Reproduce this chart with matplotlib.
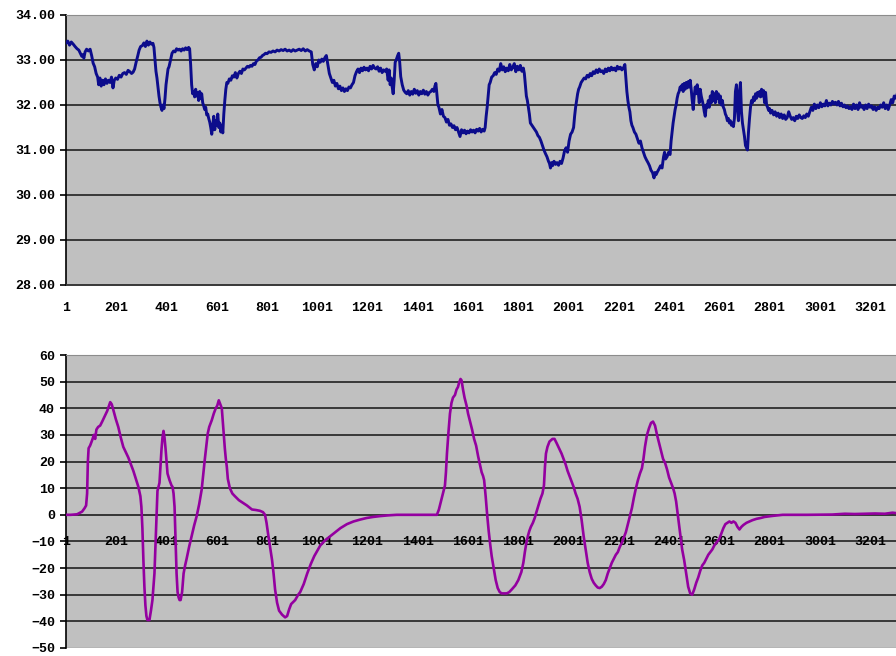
import matplotlib
matplotlib.use('Agg')
import matplotlib.pyplot as plt

# x categories shown on both axes
x_ticks = [1, 201, 401, 601, 801, 1001, 1201, 1401, 1601, 1801, 2001,
           2201, 2401, 2601, 2801, 3001, 3201]

# top series
top_idx = [1, 8, 15, 22, 30, 37, 45, 52, 58, 64, 68, 72, 77, 83, 90, 97, 103, 109, 115, 121,
           127, 131, 136, 141, 147, 152, 158, 164, 170, 176, 182, 188, 193, 199, 206, 213, 220, 227, 234, 241,
           248, 255, 262, 268, 274, 280, 286, 292, 298, 305, 311, 317, 323, 329, 335, 341, 347, 351, 355, 359,
           363, 367, 371, 375, 379, 383, 387, 391, 395, 399, 403, 407, 411, 415, 419, 423, 429, 435, 441, 447,
           453, 459, 465, 471, 477, 483, 489, 493, 497, 501, 505, 509, 513, 517, 521, 525, 529, 533, 537, 541,
           545, 549, 553, 557, 561, 565, 569, 573, 577, 581, 585, 589, 593, 597, 601, 605, 609, 613, 617, 621,
           625, 629, 633, 637, 641, 645, 651, 657, 663, 669, 675, 681, 687, 693, 699, 705, 711, 717, 723, 729,
           735, 741, 747, 753, 759, 765, 771, 777, 783, 789, 795, 801, 809, 817, 825, 833, 841, 849, 857, 865,
           873, 881, 889, 897, 905, 913, 921, 929, 937, 945, 953, 961, 969, 977, 983, 989, 995, 1001, 1007, 1013,
           1019, 1025, 1031, 1037, 1043, 1049, 1055, 1061, 1067, 1073, 1079, 1085, 1091, 1097, 1103, 1109, 1115, 1121, 1127, 1133,
           1139, 1145, 1151, 1157, 1163, 1169, 1175, 1181, 1187, 1193, 1199, 1205, 1211, 1217, 1223, 1229, 1235, 1241, 1247, 1253,
           1259, 1265, 1271, 1277, 1283, 1287, 1291, 1295, 1299, 1303, 1307, 1311, 1315, 1321, 1325, 1329, 1333, 1339, 1345, 1351,
           1357, 1363, 1369, 1375, 1381, 1387, 1393, 1399, 1405, 1411, 1417, 1423, 1429, 1435, 1441, 1447, 1453, 1459, 1465, 1469,
           1473, 1477, 1481, 1485, 1491, 1497, 1503, 1509, 1515, 1521, 1527, 1533, 1539, 1545, 1551, 1557, 1563, 1569, 1575, 1581,
           1587, 1593, 1599, 1605, 1611, 1617, 1623, 1629, 1635, 1641, 1647, 1653, 1659, 1665, 1669, 1673, 1677, 1681, 1685, 1689,
           1695, 1701, 1707, 1713, 1719, 1725, 1731, 1737, 1743, 1749, 1755, 1761, 1767, 1773, 1779, 1785, 1791, 1797, 1803, 1809,
           1815, 1821, 1825, 1829, 1833, 1837, 1841, 1845, 1849, 1855, 1861, 1867, 1873, 1879, 1885, 1891, 1897, 1903, 1909, 1915,
           1921, 1925, 1929, 1933, 1937, 1943, 1949, 1955, 1961, 1967, 1973, 1979, 1985, 1991, 1997, 2003, 2009, 2015, 2021, 2025,
           2029, 2033, 2037, 2041, 2045, 2051, 2057, 2063, 2069, 2075, 2081, 2087, 2093, 2099, 2105, 2111, 2117, 2123, 2129, 2135,
           2141, 2147, 2153, 2159, 2165, 2171, 2177, 2183, 2189, 2195, 2201, 2207, 2213, 2219, 2225, 2229, 2233, 2237, 2241, 2245,
           2249, 2253, 2257, 2263, 2269, 2275, 2281, 2287, 2293, 2299, 2305, 2311, 2317, 2323, 2329, 2335, 2341, 2345, 2349, 2355,
           2361, 2367, 2373, 2379, 2383, 2387, 2393, 2399, 2405, 2409, 2413, 2417, 2421, 2425, 2429, 2433, 2437, 2441, 2445, 2449,
           2453, 2457, 2461, 2465, 2469, 2473, 2477, 2481, 2485, 2489, 2493, 2497, 2501, 2505, 2509, 2513, 2517, 2521, 2525, 2529,
           2533, 2537, 2541, 2545, 2549, 2553, 2557, 2561, 2565, 2569, 2573, 2577, 2581, 2585, 2589, 2593, 2597, 2601, 2605, 2609,
           2613, 2617, 2621, 2625, 2629, 2633, 2637, 2641, 2645, 2649, 2653, 2657, 2661, 2665, 2669, 2673, 2677, 2681, 2685, 2689,
           2693, 2697, 2701, 2705, 2709, 2713, 2717, 2721, 2725, 2729, 2733, 2737, 2741, 2745, 2749, 2753, 2757, 2761, 2765, 2769,
           2773, 2777, 2781, 2785, 2789, 2793, 2797, 2801, 2805, 2811, 2817, 2823, 2829, 2835, 2841, 2847, 2853, 2859, 2865, 2871,
           2877, 2883, 2889, 2895, 2901, 2907, 2913, 2919, 2925, 2931, 2937, 2943, 2949, 2955, 2961, 2967, 2973, 2979, 2985, 2991,
           2997, 3003, 3009, 3015, 3021, 3027, 3033, 3039, 3045, 3051, 3057, 3063, 3069, 3075, 3081, 3087, 3093, 3099, 3105, 3111,
           3117, 3123, 3129, 3135, 3141, 3147, 3153, 3159, 3165, 3171, 3177, 3183, 3189, 3195, 3201, 3207, 3213, 3219, 3225, 3231,
           3237, 3243, 3249, 3255, 3261, 3267, 3273, 3279, 3285, 3291, 3297, 3303, 3309]
top_val = [33.38, 33.42, 33.33, 33.40, 33.35, 33.30, 33.25, 33.22, 33.15, 33.08, 33.12, 33.04, 33.18, 33.24, 33.20, 33.24, 33.10, 32.93, 32.85, 32.70,
           32.62, 32.45, 32.60, 32.42, 32.55, 32.45, 32.58, 32.48, 32.55, 32.50, 32.62, 32.38, 32.55, 32.60, 32.57, 32.66, 32.62, 32.70, 32.72, 32.68,
           32.77, 32.74, 32.70, 32.73, 32.80, 32.95, 33.08, 33.22, 33.30, 33.32, 33.38, 33.30, 33.42, 33.33, 33.40, 33.35, 33.37, 33.28, 33.00, 32.75,
           32.60, 32.40, 32.20, 32.05, 31.95, 31.88, 32.00, 31.92, 32.15, 32.45, 32.62, 32.80, 32.85, 32.95, 33.05, 33.15, 33.20, 33.18, 33.25, 33.22,
           33.24, 33.20, 33.25, 33.22, 33.27, 33.23, 33.28, 33.25, 32.90, 32.45, 32.25, 32.30, 32.18, 32.35, 32.20, 32.28, 32.10, 32.30, 32.15, 32.25,
           32.05, 31.98, 31.90, 31.95, 31.78, 31.80, 31.70, 31.62, 31.50, 31.35, 31.55, 31.75, 31.45, 31.65, 31.55, 31.80, 31.50, 31.60, 31.40, 31.55,
           31.38, 31.80, 32.10, 32.35, 32.50, 32.48, 32.58, 32.55, 32.65, 32.62, 32.72, 32.60, 32.70, 32.75, 32.70, 32.80, 32.78, 32.82, 32.86, 32.84,
           32.88, 32.86, 32.92, 32.90, 32.98, 33.00, 33.05, 33.06, 33.10, 33.12, 33.15, 33.14, 33.18, 33.17, 33.20, 33.18, 33.22, 33.20, 33.23, 33.21,
           33.24, 33.20, 33.22, 33.19, 33.23, 33.20, 33.22, 33.24, 33.21, 33.25, 33.20, 33.23, 33.20, 33.18, 32.90, 32.78, 32.92, 32.85, 33.00, 32.95,
           33.02, 32.97, 33.05, 33.10, 32.90, 32.70, 32.60, 32.50, 32.55, 32.42, 32.48, 32.36, 32.42, 32.32, 32.38, 32.30, 32.36, 32.32, 32.40, 32.38,
           32.45, 32.50, 32.65, 32.74, 32.80, 32.72, 32.82, 32.76, 32.84, 32.78, 32.82, 32.76, 32.86, 32.80, 32.88, 32.82, 32.80, 32.85, 32.75, 32.82,
           32.72, 32.78, 32.75, 32.80, 32.55, 32.78, 32.45, 32.60, 32.40, 32.25, 32.55, 32.95, 33.00, 33.10, 33.15, 32.95, 32.63, 32.45, 32.33, 32.28,
           32.25, 32.32, 32.22, 32.30, 32.24, 32.35, 32.26, 32.32, 32.22, 32.30, 32.25, 32.33, 32.24, 32.30, 32.22, 32.28, 32.30, 32.35, 32.30, 32.42,
           32.48, 32.25, 32.00, 31.95, 31.80, 31.90, 31.75, 31.72, 31.62, 31.68, 31.55, 31.58, 31.50, 31.54, 31.45, 31.50, 31.40, 31.30, 31.45, 31.38,
           31.44, 31.36, 31.42, 31.38, 31.45, 31.40, 31.44, 31.38, 31.46, 31.42, 31.48, 31.40, 31.46, 31.42, 31.50, 31.75, 31.95, 32.20, 32.45, 32.50,
           32.62, 32.65, 32.72, 32.68, 32.80, 32.75, 32.92, 32.78, 32.85, 32.74, 32.82, 32.76, 32.90, 32.78, 32.84, 32.92, 32.74, 32.86, 32.78, 32.88,
           32.75, 32.82, 32.70, 32.45, 32.20, 32.10, 31.95, 31.80, 31.60, 31.55, 31.50, 31.45, 31.40, 31.32, 31.28, 31.20, 31.10, 31.00, 30.92, 30.85,
           30.75, 30.70, 30.60, 30.72, 30.65, 30.75, 30.68, 30.72, 30.66, 30.75, 30.70, 30.82, 30.98, 31.05, 30.95, 31.20, 31.35, 31.40, 31.50, 31.75,
           31.95, 32.10, 32.25, 32.35, 32.40, 32.50, 32.55, 32.60, 32.58, 32.66, 32.62, 32.70, 32.65, 32.74, 32.70, 32.78, 32.72, 32.80, 32.74, 32.76,
           32.70, 32.80, 32.74, 32.82, 32.76, 32.84, 32.78, 32.82, 32.76, 32.86, 32.80, 32.84, 32.78, 32.82, 32.90, 32.60, 32.30, 32.10, 31.95, 31.85,
           31.65, 31.55, 31.50, 31.40, 31.35, 31.25, 31.15, 31.20, 31.05, 30.95, 30.85, 30.78, 30.72, 30.65, 30.55, 30.50, 30.38, 30.50, 30.45, 30.52,
           30.58, 30.65, 30.60, 30.85, 30.95, 30.80, 30.85, 30.95, 30.90, 31.20, 31.40, 31.60, 31.75, 31.90, 32.00, 32.15, 32.25, 32.30, 32.40, 32.35,
           32.45, 32.30, 32.48, 32.35, 32.50, 32.38, 32.52, 32.40, 32.55, 32.35, 32.10, 31.90, 32.20, 32.40, 32.25, 32.45, 32.30, 32.05, 32.35, 32.20,
           32.10, 32.00, 31.85, 31.75, 32.00, 31.95, 32.10, 31.95, 32.20, 32.05, 32.30, 32.10, 32.25, 32.05, 32.30, 32.15, 32.25, 32.05, 32.20, 32.00,
           32.10, 31.95, 31.90, 31.80, 31.75, 31.65, 31.70, 31.60, 31.65, 31.55, 31.60, 31.52, 31.70, 32.30, 32.45, 31.90, 31.65, 32.30, 32.50, 31.85,
           31.60, 31.45, 31.30, 31.10, 31.05, 31.00, 31.40, 31.70, 31.95, 32.10, 32.05, 32.18, 32.10, 32.25, 32.15, 32.28, 32.20, 32.30, 32.18, 32.35,
           32.20, 32.32, 32.05, 32.28, 32.00, 31.95, 31.88, 31.92, 31.82, 31.88, 31.78, 31.85, 31.75, 31.82, 31.72, 31.80, 31.70, 31.78, 31.68, 31.72,
           31.85, 31.75, 31.68, 31.72, 31.65, 31.75, 31.70, 31.78, 31.72, 31.70, 31.76, 31.72, 31.80, 31.75, 31.85, 31.95, 31.88, 32.02, 31.92, 32.00,
           31.94, 32.05, 31.96, 32.02, 31.98, 32.10, 31.98, 32.04, 32.00, 32.08, 32.02, 32.06, 32.00, 32.08, 31.98, 32.04, 31.96, 32.00, 31.94, 31.98,
           31.92, 31.96, 31.90, 32.02, 31.92, 32.00, 31.90, 32.05, 31.95, 31.98, 31.90, 32.00, 31.92, 32.02, 31.95, 31.98, 31.90, 31.96, 31.88, 31.95,
           31.92, 32.00, 31.95, 32.05, 31.92, 32.00, 31.90, 32.00, 32.12, 32.05, 32.20, 32.15, 32.25]

# bottom series
bot_idx = [1, 20, 45, 65, 75, 81, 85, 88, 91, 97, 105, 112, 117, 122, 129, 137, 145, 155, 165, 172,
           177, 183, 189, 199, 209, 219, 229, 239, 249, 259, 269, 279, 289, 297, 301, 305, 309, 313, 317, 321,
           325, 333, 339, 345, 353, 357, 361, 365, 369, 373, 377, 381, 385, 389, 393, 397, 401, 405, 413, 421,
           425, 429, 433, 437, 441, 445, 449, 453, 457, 463, 469, 475, 481, 491, 501, 511, 521, 531, 541, 547,
           553, 559, 565, 571, 581, 589, 597, 603, 609, 615, 621, 625, 629, 633, 637, 641, 645, 653, 663, 673,
           689, 705, 721, 741, 757, 773, 785, 793, 799, 805, 813, 821, 827, 833, 841, 849, 861, 873, 881, 889,
           897, 913, 925, 933, 947, 961, 975, 989, 1001, 1013, 1033, 1053, 1073, 1093, 1119, 1145, 1171, 1197, 1223, 1249,
           1283, 1317, 1400, 1477, 1485, 1493, 1501, 1509, 1513, 1517, 1523, 1529, 1535, 1541, 1549, 1555, 1561, 1565, 1571, 1575,
           1581, 1587, 1595, 1601, 1609, 1617, 1625, 1633, 1641, 1649, 1655, 1661, 1665, 1671, 1677, 1683, 1689, 1695, 1703, 1711,
           1719, 1727, 1735, 1745, 1755, 1765, 1775, 1789, 1801, 1813, 1821, 1827, 1833, 1839, 1845, 1851, 1859, 1867, 1873, 1881,
           1889, 1897, 1903, 1907, 1911, 1917, 1925, 1937, 1945, 1953, 1963, 1973, 1981, 1989, 1997, 2005, 2013, 2021, 2029, 2037,
           2045, 2053, 2061, 2069, 2077, 2085, 2093, 2101, 2109, 2117, 2125, 2133, 2141, 2149, 2157, 2165, 2173, 2181, 2189, 2197,
           2205, 2213, 2221, 2229, 2237, 2245, 2253, 2261, 2269, 2277, 2285, 2293, 2299, 2305, 2313, 2321, 2329, 2337, 2345, 2353,
           2361, 2369, 2377, 2385, 2393, 2401, 2409, 2417, 2423, 2429, 2437, 2445, 2453, 2461, 2469, 2477, 2485, 2493, 2501, 2509,
           2517, 2525, 2533, 2541, 2549, 2557, 2565, 2573, 2581, 2593, 2601, 2609, 2617, 2625, 2633, 2641, 2649, 2657, 2665, 2673,
           2681, 2689, 2697, 2709, 2721, 2733, 2749, 2765, 2781, 2797, 2813, 2833, 2853, 2950, 3050, 3100, 3140, 3180, 3220, 3260,
           3290, 3309]
bot_val = [0, 0, 0.2, 1.2, 2.5, 3.5, 8, 20, 25, 26, 28, 30, 28.5, 32, 33, 33.5, 35, 37, 39, 41,
           42.3, 41.5, 39.5, 36, 33, 29, 25.5, 23.5, 21.5, 19, 16.5, 13.5, 10.5, 7, 3, -5, -17, -27, -34, -38,
           -39.5, -39.5, -36, -32, -22, -12, -3, 9, 10.5, 12, 18, 24.5, 29, 31.5, 29, 25, 20, 15.5, 13, 11,
           10.5, 8, 3, -10, -22, -29, -31, -32, -32, -29, -22, -19, -16.5, -12, -8, -4, -0.5, 4, 9.5, 15,
           20.5, 25.5, 30.5, 33, 35.5, 38, 40, 41, 43, 41.5, 40, 35, 30, 25, 21, 18, 13.5, 10, 8, 7,
           5.5, 4.5, 3.5, 2, 1.8, 1.5, 1, 0, -3, -7, -12, -17, -22, -28, -33, -36, -37.5, -38.5, -38, -35.5,
           -33.5, -32, -30, -29, -26, -22, -18.5, -15.5, -13.5, -11.5, -9.5, -8, -6.5, -5, -3.5, -2.5, -1.8, -1.2, -0.8, -0.5,
           -0.2, 0, 0, 0, 2, 5, 8, 11, 16, 23, 31, 38, 42, 44, 45, 47, 48, 49.5, 51, 50.5,
           47, 44, 41, 38, 35, 32, 28.5, 26, 22, 18.5, 16, 14.5, 13, 7, 0, -6, -11, -15.5, -20, -24.5,
           -27.5, -29, -29.5, -29.5, -29.5, -29, -28, -26.5, -24.5, -21.5, -18, -14, -10.5, -8, -6, -4.5, -3, -1, 1, 3.5,
           6, 8, 11, 18, 23, 25.5, 27.5, 28.5, 28.5, 27, 25, 23, 21, 19, 16.5, 14.5, 12.5, 10.5, 8, 6,
           3, -2, -8, -13, -18, -21.5, -24, -25.5, -26.5, -27.3, -27.5, -27, -26, -24.5, -22, -20, -18, -16.5, -15, -14,
           -12, -10.5, -8.5, -6.5, -3.5, -0.5, 2.5, 6.5, 10, 13, 15.5, 17.5, 21, 25.5, 30, 32.5, 34.5, 35, 33.5, 30,
           27, 24, 21, 19.5, 17, 14, 12, 10, 8, 5, -1, -7, -13, -17, -22, -27, -29.5, -30, -28, -25.5,
           -23.5, -21, -19, -18, -16.5, -15, -14, -13, -11.5, -10, -9, -7, -5, -3.5, -3, -2.5, -3, -2.5, -3, -4.5,
           -5.5, -4.5, -3.8, -3, -2.5, -2, -1.5, -1.2, -0.8, -0.6, -0.4, -0.2, 0, 0, 0.1, 0.4, 0.3, 0.4, 0.5, 0.4,
           0.8, 0.6]

top_yticks = [28, 29, 30, 31, 32, 33, 34]
bot_yticks = [-50, -40, -30, -20, -10, 0, 10, 20, 30, 40, 50, 60]

plt.rcParams['font.family'] = ['Liberation Mono', 'DejaVu Sans']
plt.rcParams['font.weight'] = 'bold'
plt.rcParams['font.size'] = 9.5

fig = plt.figure(figsize=(8.96, 6.56), dpi=100)
ax1 = fig.add_axes([66 / 896, 1 - 285 / 656, 1 - 66 / 896, 270 / 656])
ax2 = fig.add_axes([66 / 896, 1 - 648 / 656, 1 - 66 / 896, 293 / 656])

bg = '#c0c0c0'
grid_c = '#383838'

for ax, ticks in ((ax1, top_yticks), (ax2, bot_yticks)):
    ax.set_facecolor(bg)
    ax.set_xlim(1, 3304)
    ax.set_ylim(ticks[0], ticks[-1])
    ax.set_yticks(ticks)
    ax.set_xticks(x_ticks)
    for t in ticks[1:-1]:
        ax.axhline(t, color=grid_c, lw=1.4, zorder=1)
    ax.spines['right'].set_visible(False)
    ax.spines['top'].set_color('#8c8c8c')
    ax.spines['left'].set_color('black')
    ax.spines['left'].set_linewidth(1.2)
    ax.tick_params(axis='y', direction='out', length=4, width=1.2, pad=4)
    ax.tick_params(axis='x', length=0)
    ax.set_axisbelow(False)

# top panel
ax1.plot(top_idx, top_val, color='#0c0c8c', lw=2.1, zorder=3)
ax1.set_yticklabels(['%.2f' % t for t in top_yticks])
ax1.spines['bottom'].set_color(grid_c)
ax1.spines['bottom'].set_linewidth(1.4)
ax1.tick_params(axis='x', pad=12)

# bottom panel: x axis crosses at zero
ax2.plot(bot_idx, bot_val, color='#9400a0', lw=1.9, zorder=3)
ax2.spines['bottom'].set_position(('data', 0))
ax2.spines['bottom'].set_color(grid_c)
ax2.spines['bottom'].set_linewidth(1.4)
ax2.axhline(bot_yticks[0], color='#8c8c8c', lw=1.0, zorder=1)
ax2.tick_params(axis='x', pad=15)

fig.savefig('out.png', dpi=100)
